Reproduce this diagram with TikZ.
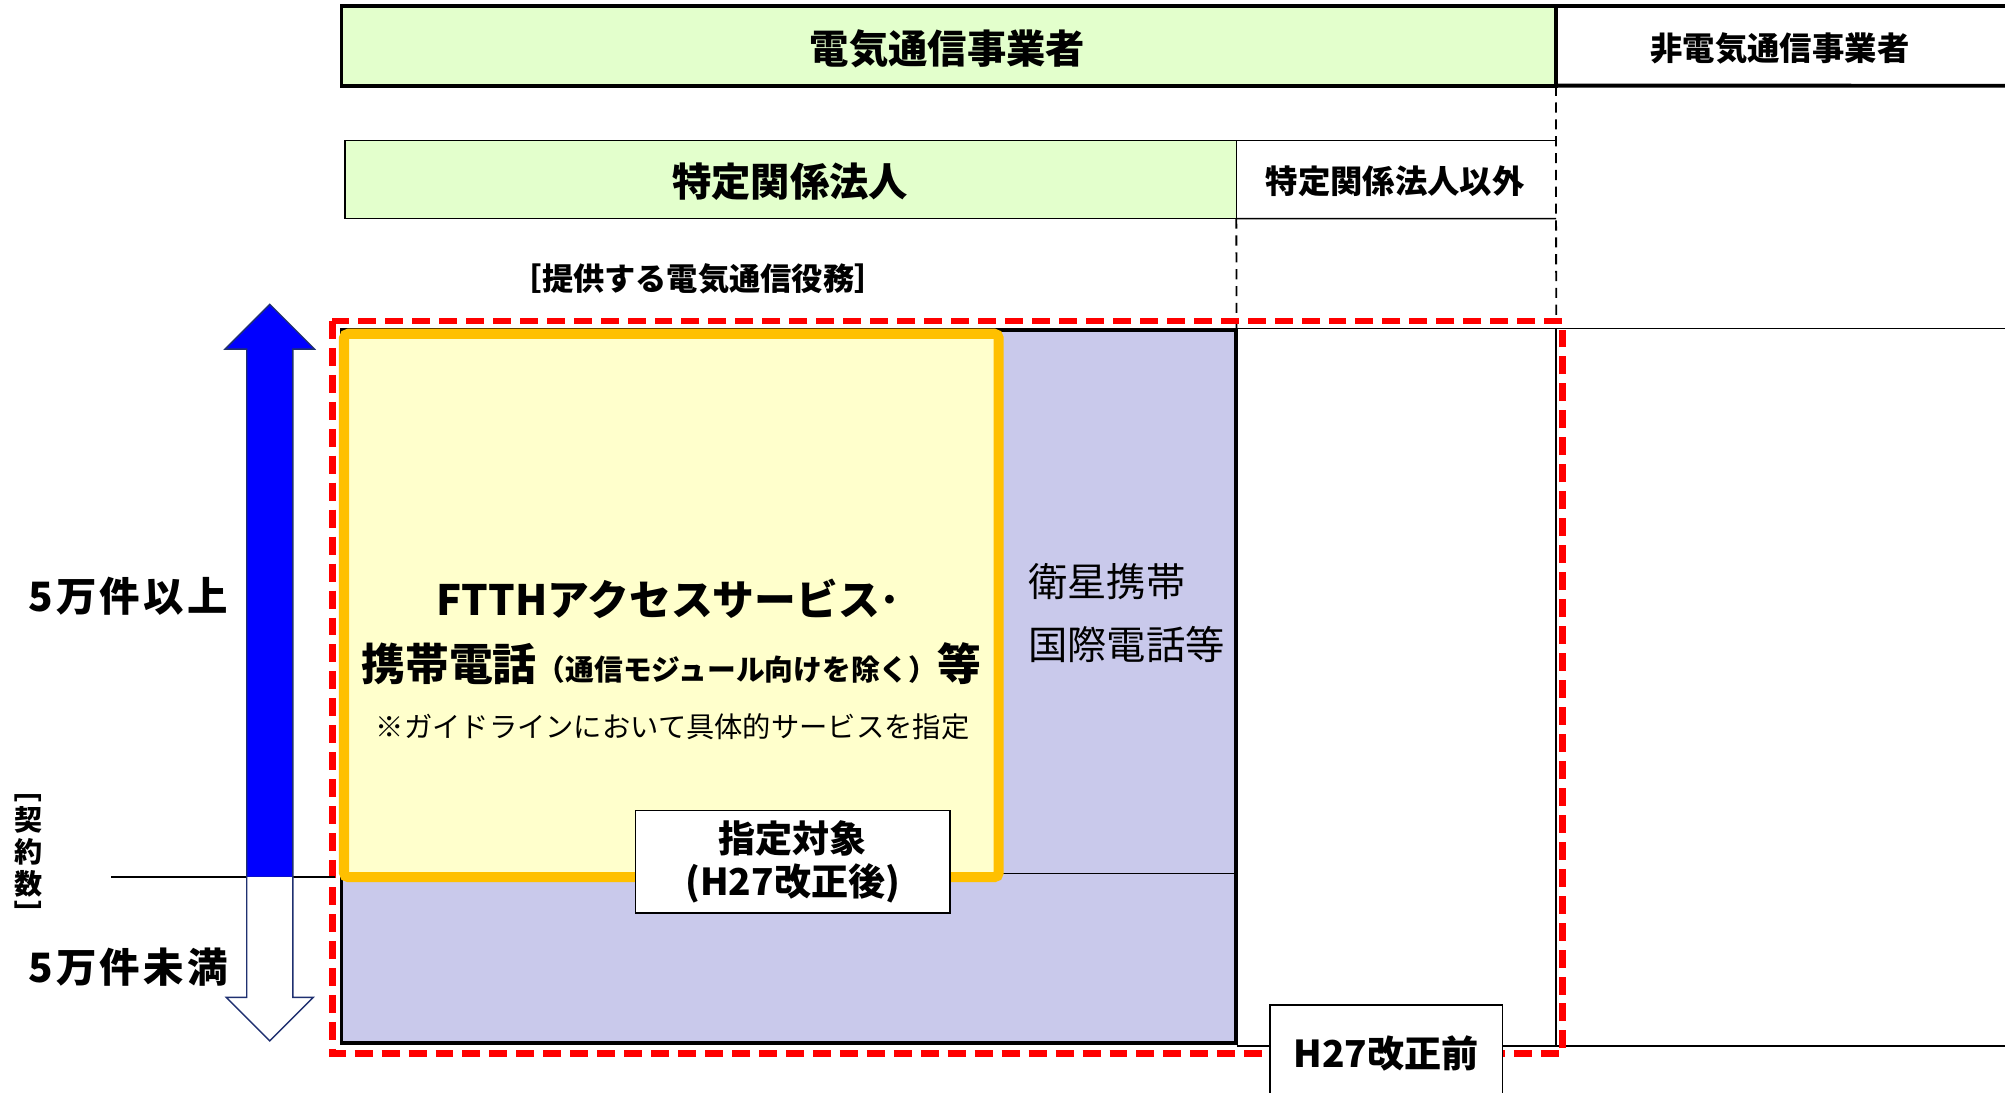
\documentclass[tikz,border=0pt]{standalone}
\usepackage{fontspec}
\setmainfont{Noto Sans CJK JP}
\usepackage{graphicx}
\definecolor{cgreen}{HTML}{E3FFCC}
\definecolor{cyellow}{HTML}{FFFFCC}
\definecolor{corange}{HTML}{FFC000}
\definecolor{cpurple}{HTML}{C9C9EB}
\definecolor{cnavy}{HTML}{1F3070}
\definecolor{cblue}{HTML}{0000FF}
\tikzset{
  thinln/.style={line width=0.7pt},
  thickln/.style={line width=1.7pt},
  dashln/.style={line width=0.8pt, dash pattern=on 4.5pt off 3pt},
  reddash/.style={draw=red, line width=2.9pt, dash pattern=on 8pt off 4pt},
  boxn/.style={anchor=north west, inner sep=0pt, outer sep=0pt},
  bigb/.style={font=\bfseries\fontsize{17.5pt}{20pt}\selectfont},
  midb/.style={font=\bfseries\fontsize{14.4pt}{16pt}\selectfont},
  axisb/.style={font=\bfseries\fontsize{18pt}{20pt}\selectfont\addfontfeature{LetterSpace=8}},
  vertb/.style={font=\bfseries\fontsize{12.5pt}{15pt}\selectfont, inner sep=0pt},
  arrowsh/.style={draw=cnavy, line width=0.6pt, line join=miter},
}
\begin{document}
\begin{tikzpicture}[x=0.02cm,y=-0.02cm]
\useasboundingbox (0,0) rectangle (1568,854);

% ---- top row
\node[boxn, draw, thickln, fill=cgreen, minimum width=19cm, minimum height=1.24cm] (tel) at (267,5) {};
\node[bigb] (telt) at (741,38) {電気通信事業者};
\draw[thickln] (tel.north east) -- (1572,5);
\draw[thickln] (tel.south east) -- (1572,67);
\node[midb] (nontel) at (1392,38) {非電気通信事業者};

% ---- second row
\node[boxn, draw, thinln, fill=cgreen, minimum width=13.94cm, minimum height=1.22cm] (spec) at (270,110) {};
\node[bigb] (spect) at (618,142) {特定関係法人};
\draw[thinln] (spec.north east) -- (1217,110);
\draw[thinln] (spec.south east) -- (1217,171);
\node[midb] (other) at (1091,142) {特定関係法人以外};
\draw[dashln] (tel.south east) -- (1217,252);
\draw[dashln] (spec.south east) -- (967,257);

\node[font=\bfseries\fontsize{13.9pt}{15pt}\selectfont] (svc) at (546,218) {［提供する電気通信役務］};

% ---- right region lines
\draw[thinln] (967,257) -- (1572,257);
\draw[thinln] (1217,257) -- (1217,818);
\draw[thinln] (967,818) -- (1572,818);

% ---- purple box
\node[boxn, draw, thickln, fill=cpurple, minimum width=14cm, minimum height=11.16cm] (purp) at (267,258) {};
\draw[thinln] (782,683) -- (purp.east |- 0,683);
\node[anchor=west, font=\fontsize{17.5pt}{20pt}\selectfont] (sat1) at (798,455) {衛星携帯};
\node[anchor=west, font=\fontsize{17.5pt}{20pt}\selectfont] (sat2) at (798,504) {国際電話等};

% ---- yellow box
\draw[draw=corange, fill=cyellow, line width=4.5pt, rounded corners=2pt] (269,261) rectangle (781,686);
\node[font=\bfseries\fontsize{18.6pt}{20pt}\selectfont] (ftth) at (523,468) {FTTHアクセスサービス･};
\node[font=\bfseries] (mob) at (525,519) {\fontsize{19.5pt}{21pt}\selectfont 携帯電話\fontsize{12.8pt}{14pt}\selectfont （通信モジュール向けを除く）\fontsize{19.5pt}{21pt}\selectfont 等};
\node[font=\fontsize{12.6pt}{15pt}\selectfont] (note) at (526,568) {※ガイドラインにおいて具体的サービスを指定};

\node[boxn, draw, thinln, fill=white, minimum width=4.92cm, minimum height=1.6cm] (after) at (497,634) {};
\node[font=\bfseries\fontsize{16.5pt}{19.5pt}\selectfont, align=center] (aftert) at (after.center) {指定対象\\(H27改正後)};

% ---- red dashed
\draw[reddash] (260,251) rectangle (1222,824);

% ---- before box
\node[boxn, draw, thinln, fill=white, minimum width=3.64cm, minimum height=1.8cm] (before) at (993,786) {};
\node[font=\bfseries\fontsize{16.5pt}{19pt}\selectfont] (beforet) at (1084,824) {H27改正前};

% ---- left axis
\draw[thinln] (87,686) -- (262,686);
\draw[arrowsh, fill=cblue] (193,686) -- (193,273) -- (176,273) -- (211,238) -- (246,273) -- (229,273) -- (229,686) -- cycle;
\draw[arrowsh, fill=white] (193,686) -- (193,780) -- (177,780) -- (211,814) -- (245,780) -- (229,780) -- (229,686);

\node[axisb] (hi) at (100,466) {5万件以上};
\node[axisb] (lo) at (100,756) {5万件未満};

\node[vertb, rotate=-90] (k0) at (22,617) {［};
\node[vertb] (k1) at (22,641) {契};
\node[vertb] (k2) at (22,666) {約};
\node[vertb] (k3) at (22,691) {数};
\node[vertb, rotate=-90] (k4) at (22,715) {］};
\end{tikzpicture}
\end{document}
